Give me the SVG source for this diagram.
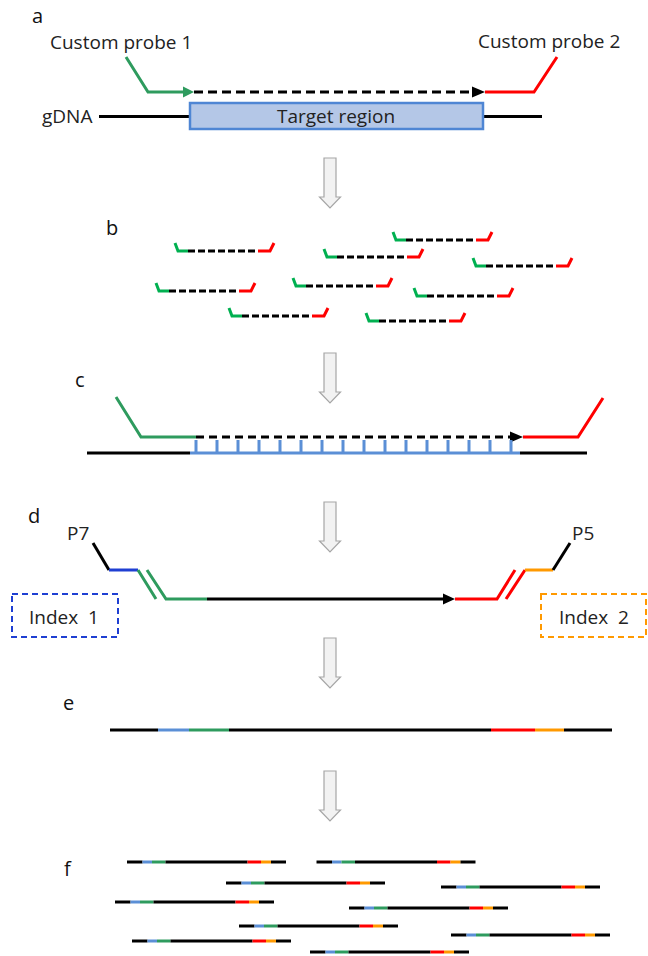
<svg xmlns="http://www.w3.org/2000/svg" xmlns:xlink="http://www.w3.org/1999/xlink" width="648" height="956" viewBox="0 0 648 956">
  <style>
    text { font-family: "Open Sans", "Liberation Sans", sans-serif; fill: #222; }
    .lbl { font-size: 19px; }
    .panel { font-size: 20px; fill: #111; }
    .ln { fill: none; stroke-width: 3; stroke-linecap: butt; stroke-linejoin: miter; }
    .blk { stroke: #000; }
    .grn { stroke: #2E9B5E; }
    .grnB { stroke: #00B050; }
    .red { stroke: #FF0000; }
    .blu { stroke: #5B8FD6; }
    .dblu { stroke: #1F3FD2; }
    .org { stroke: #FF9900; }
    .dash { stroke-dasharray: 9 5; }
    .step { fill: #F2F2F2; stroke: #A6A6A6; stroke-width: 1.2; }
  </style>
  <defs>
    <!-- single probe-captured fragment: green arm, dashed extension, red arm -->
    <g id="frag">
      <path class="ln grnB" d="M0,-8 L3,0 L13,0"/>
      <path class="ln blk" d="M13,0 L83,0" stroke-dasharray="7 3"/>
      <path class="ln red" d="M83,0 L95,0 L99,-8"/>
    </g>
    <!-- indexed library read -->
    <g id="read">
      <path class="ln blk" d="M0,0 H15.5"/>
      <path class="ln blu" d="M15.5,0 H25"/>
      <path class="ln grn" d="M25,0 H38.5"/>
      <path class="ln blk" d="M38.5,0 H120.5"/>
      <path class="ln red" d="M120.5,0 H134"/>
      <path class="ln org" d="M134,0 H144"/>
      <path class="ln blk" d="M144,0 H159"/>
    </g>
    <!-- hollow grey step arrow -->
    <path id="step" class="step" d="M-6,0 H6 V39 H10.5 L0,50 L-10.5,39 H-6 Z"/>
  </defs>

  <!-- step arrows between panels -->
  <g id="steps">
    <use xlink:href="#step" x="330" y="158"/>
    <use xlink:href="#step" x="330" y="353"/>
    <use xlink:href="#step" x="330" y="502"/>
    <use xlink:href="#step" x="330" y="638"/>
    <use xlink:href="#step" x="330" y="771"/>
  </g>

  <!-- panel a: probe design -->
  <g id="panel-a">
    <text class="panel" x="32" y="23">a</text>
    <g id="probe1">
      <text class="lbl" x="50" y="49">Custom probe 1</text>
      <path class="ln grn" d="M126,57 L148,92 L184,92"/>
      <polygon points="183,86.5 194,92 183,97.5" fill="#2E9B5E"/>
    </g>
    <g id="extension-a">
      <path class="ln blk dash" d="M194,92 L473,92"/>
      <polygon points="472,86.5 485,92 472,97.5" fill="#000"/>
    </g>
    <g id="probe2">
      <text class="lbl" x="478" y="48">Custom probe 2</text>
      <path class="ln red" d="M485,92 L534,92 L557,57"/>
    </g>
    <g id="gdna">
      <text class="lbl" x="42" y="123">gDNA</text>
      <path class="ln blk" d="M99,116.5 H190 M483,116.5 H542"/>
    </g>
    <g id="target">
      <rect x="190" y="103" width="293" height="26" fill="#B4C7E7" stroke="#4F86D4" stroke-width="2.5"/>
      <text class="lbl" x="336" y="123" text-anchor="middle">Target region</text>
    </g>
  </g>

  <!-- panel b: captured fragments -->
  <g id="panel-b">
    <text class="panel" x="106" y="235">b</text>
    <use xlink:href="#frag" x="393" y="240"/>
    <use xlink:href="#frag" x="175" y="251"/>
    <use xlink:href="#frag" x="324" y="257"/>
    <use xlink:href="#frag" x="473" y="266"/>
    <use xlink:href="#frag" x="293" y="286"/>
    <use xlink:href="#frag" x="156" y="291"/>
    <use xlink:href="#frag" x="414" y="296"/>
    <use xlink:href="#frag" x="229" y="316"/>
    <use xlink:href="#frag" x="366" y="321"/>
  </g>

  <!-- panel c: probes hybridised to the template -->
  <g id="panel-c">
    <text class="panel" x="75" y="387">c</text>
    <path class="ln grn" d="M116,397 L141,437 L196,437"/>
    <path class="ln blk" d="M196,437 L511,437" stroke-dasharray="8 5"/>
    <polygon points="510,431.5 523,437 510,442.5" fill="#000"/>
    <path class="ln red" d="M523,437 L578,437 L603,398"/>
    <path class="ln blk" d="M87,453 H190 M520,453 H587"/>
    <path class="ln blu" d="M190,453 H520"/>
    <path class="ln blu" d="M196,440 V453 M217,440 V453 M238,440 V453 M259,440 V453 M280,440 V453 M301,440 V453 M322,440 V453 M343,440 V453 M364,440 V453 M385,440 V453 M406,440 V453 M427,440 V453 M448,440 V453 M469,440 V453 M490,440 V453 M511,440 V453"/>
  </g>

  <!-- panel d: adapter / index PCR -->
  <g id="panel-d">
    <text class="panel" x="28" y="523">d</text>
    <g id="p7">
      <text class="lbl" x="67" y="540" font-size="18">P7</text>
      <path class="ln blk" d="M93,543 L109,570"/>
      <path class="ln dblu" d="M109,570 H138"/>
      <path class="ln grn" d="M138,570 L156,599 M147,570 L166,599 L207,599"/>
    </g>
    <path class="ln blk" d="M207,599 H444"/>
    <polygon points="443,593.5 455,599 443,604.5" fill="#000"/>
    <g id="p5">
      <path class="ln red" d="M455,599 H497 L515,570 M506,599 L525,570"/>
      <path class="ln org" d="M525,570 H553"/>
      <path class="ln blk" d="M553,570 L570,543"/>
      <text class="lbl" x="572" y="540" font-size="18">P5</text>
    </g>
    <g id="index1">
      <rect x="12" y="594" width="106" height="43" fill="none" stroke="#1F3FD2" stroke-width="2" stroke-dasharray="6 4"/>
      <text class="lbl" x="29" y="624" style="white-space:pre">Index  1</text>
    </g>
    <g id="index2">
      <rect x="541" y="594" width="105" height="43" fill="none" stroke="#FF9900" stroke-width="2" stroke-dasharray="6 4"/>
      <text class="lbl" x="559" y="624" style="white-space:pre">Index  2</text>
    </g>
  </g>

  <!-- panel e: final library molecule -->
  <g id="panel-e">
    <text class="panel" x="63" y="710">e</text>
    <path class="ln blk" d="M110,730 H158"/>
    <path class="ln blu" d="M158,730 H189"/>
    <path class="ln grn" d="M189,730 H229"/>
    <path class="ln blk" d="M229,730 H491"/>
    <path class="ln red" d="M491,730 H535"/>
    <path class="ln org" d="M535,730 H564"/>
    <path class="ln blk" d="M564,730 H612"/>
  </g>

  <!-- panel f: sequenced library -->
  <g id="panel-f">
    <text class="panel" x="64" y="876">f</text>
    <use xlink:href="#read" x="127" y="862"/>
    <use xlink:href="#read" x="316.5" y="862"/>
    <use xlink:href="#read" x="226" y="883"/>
    <use xlink:href="#read" x="441" y="887"/>
    <use xlink:href="#read" x="115" y="902"/>
    <use xlink:href="#read" x="349" y="908"/>
    <use xlink:href="#read" x="239" y="926"/>
    <use xlink:href="#read" x="451" y="935"/>
    <use xlink:href="#read" x="132" y="941"/>
    <use xlink:href="#read" x="310" y="952"/>
  </g>
</svg>
